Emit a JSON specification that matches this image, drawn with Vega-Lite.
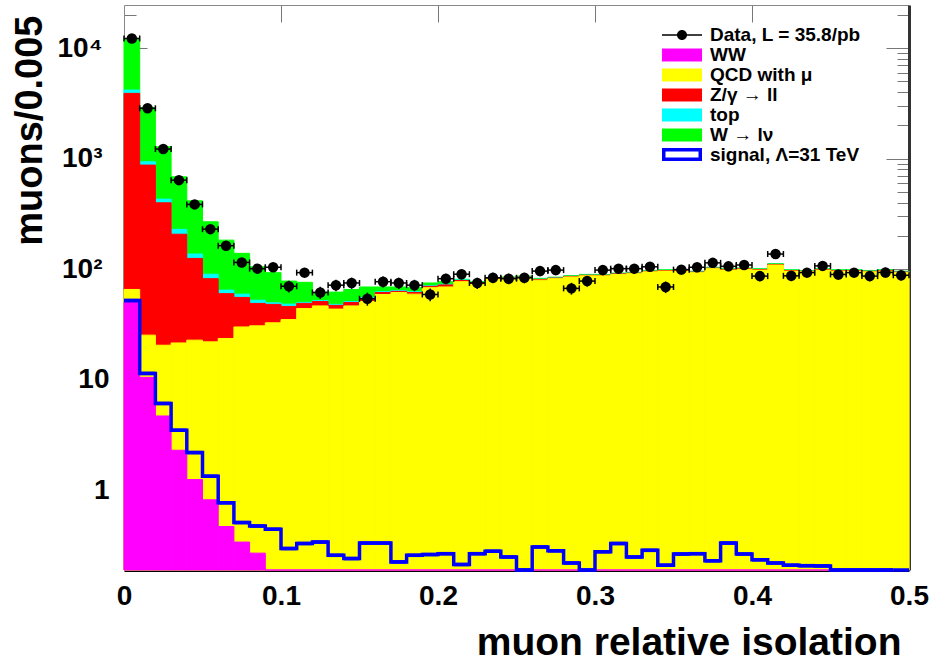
{
  "$schema": "https://vega.github.io/schema/vega-lite/v6.json",
  "width": 785,
  "height": 565,
  "autosize": {"type": "none"},
  "padding": {"left": 124, "top": 5, "right": 25, "bottom": 92},
  "background": "white",
  "config": {
    "font": "Liberation Sans",
    "view": {"stroke": null},
    "axis": {"grid": false, "labelFont": "Liberation Sans", "labelFontWeight": "bold", "labelColor": "black", "titleFont": "Liberation Sans", "titleFontWeight": "bold", "titleColor": "black"},
    "legend": {"orient": "none", "padding": 0, "labelFont": "Liberation Sans", "labelFontSize": 19, "labelFontWeight": "bold", "labelColor": "black", "labelOffset": 18.5, "labelLimit": 400, "symbolSize": 169, "symbolOpacity": 1}
  },
  "data": {"values": [
    {"lo":0.00,"hi":0.01,"c":0.005,"ww":50,"qcd":65.5,"z":3890,"tp":4170,"w":12100,"sig":52,"d":12200,"e":110},
    {"lo":0.01,"hi":0.02,"c":0.015,"ww":10.5,"qcd":25.3,"z":873,"tp":936,"w":2900,"sig":11.4,"d":2850,"e":53},
    {"lo":0.02,"hi":0.03,"c":0.025,"ww":4.7,"qcd":20.5,"z":398,"tp":430,"w":1280,"sig":6.1,"d":1220,"e":35},
    {"lo":0.03,"hi":0.04,"c":0.035,"ww":2.3,"qcd":21.5,"z":207,"tp":229,"w":684,"sig":3.49,"d":638,"e":25},
    {"lo":0.04,"hi":0.05,"c":0.045,"ww":1.25,"qcd":22.8,"z":125,"tp":137,"w":415,"sig":2.19,"d":385,"e":20},
    {"lo":0.05,"hi":0.06,"c":0.055,"ww":0.82,"qcd":22,"z":82,"tp":90,"w":268,"sig":1.34,"d":230,"e":15},
    {"lo":0.06,"hi":0.07,"c":0.065,"ww":0.47,"qcd":23.6,"z":60,"tp":64.6,"w":183,"sig":0.77,"d":163,"e":13},
    {"lo":0.07,"hi":0.08,"c":0.075,"ww":0.34,"qcd":30,"z":55.5,"tp":59.4,"w":139,"sig":0.51,"d":115,"e":11},
    {"lo":0.08,"hi":0.09,"c":0.085,"ww":0.27,"qcd":30.7,"z":49,"tp":52.4,"w":105,"sig":0.475,"d":101,"e":10},
    {"lo":0.09,"hi":0.10,"c":0.095,"ww":0.1,"qcd":32.7,"z":48,"tp":49.6,"w":93,"sig":0.444,"d":104,"e":10},
    {"lo":0.10,"hi":0.11,"c":0.105,"ww":0.1,"qcd":35,"z":46,"tp":48.2,"w":78,"sig":0.297,"d":70,"e":8.4},
    {"lo":0.11,"hi":0.12,"c":0.115,"ww":0.1,"qcd":44,"z":49,"tp":50,"w":76,"sig":0.33,"d":93,"e":9.6},
    {"lo":0.12,"hi":0.13,"c":0.125,"ww":0.1,"qcd":46.5,"z":51,"tp":52,"w":62,"sig":0.34,"d":61.5,"e":7.8},
    {"lo":0.13,"hi":0.14,"c":0.135,"ww":0.1,"qcd":43.5,"z":47,"tp":48,"w":62,"sig":0.258,"d":71.6,"e":8.5},
    {"lo":0.14,"hi":0.15,"c":0.145,"ww":0.1,"qcd":46.5,"z":50,"tp":51,"w":65.5,"sig":0.241,"d":75,"e":8.7},
    {"lo":0.15,"hi":0.16,"c":0.155,"ww":0.1,"qcd":51,"z":54.5,"tp":55.5,"w":69,"sig":0.333,"d":54,"e":7.3},
    {"lo":0.16,"hi":0.17,"c":0.165,"ww":0.1,"qcd":59,"z":61.5,"tp":62.5,"w":69,"sig":0.333,"d":77,"e":8.8},
    {"lo":0.17,"hi":0.18,"c":0.175,"ww":0.1,"qcd":61.5,"z":63,"tp":64,"w":69,"sig":0.225,"d":75,"e":8.7},
    {"lo":0.18,"hi":0.19,"c":0.185,"ww":0.1,"qcd":59.4,"z":61.5,"tp":62.5,"w":68,"sig":0.258,"d":71.6,"e":8.5},
    {"lo":0.19,"hi":0.20,"c":0.195,"ww":0.1,"qcd":68,"z":70,"tp":71,"w":75,"sig":0.262,"d":59,"e":7.7},
    {"lo":0.20,"hi":0.21,"c":0.205,"ww":0.1,"qcd":69,"z":72,"tp":73,"w":77,"sig":0.267,"d":82,"e":9},
    {"lo":0.21,"hi":0.22,"c":0.215,"ww":0.1,"qcd":77,"z":79,"tp":80,"w":81,"sig":0.213,"d":90,"e":9.5},
    {"lo":0.22,"hi":0.23,"c":0.225,"ww":0.1,"qcd":72.7,"z":75,"tp":76,"w":77,"sig":0.267,"d":75,"e":8.7},
    {"lo":0.23,"hi":0.24,"c":0.235,"ww":0.1,"qcd":81,"z":82.2,"tp":82.6,"w":84,"sig":0.281,"d":83.5,"e":9.1},
    {"lo":0.24,"hi":0.25,"c":0.245,"ww":0.1,"qcd":82,"z":83.2,"tp":83.6,"w":85,"sig":0.249,"d":82,"e":9},
    {"lo":0.25,"hi":0.26,"c":0.255,"ww":0.1,"qcd":83.5,"z":84.7,"tp":85.1,"w":86.5,"sig":0.15,"d":83.5,"e":9.1},
    {"lo":0.26,"hi":0.27,"c":0.265,"ww":0.1,"qcd":79.5,"z":80.7,"tp":81.1,"w":82.5,"sig":0.307,"d":96,"e":9.8},
    {"lo":0.27,"hi":0.28,"c":0.275,"ww":0.1,"qcd":82,"z":83,"tp":83.4,"w":84.5,"sig":0.283,"d":98,"e":9.9},
    {"lo":0.28,"hi":0.29,"c":0.285,"ww":0.1,"qcd":85,"z":86,"tp":86.4,"w":87.5,"sig":0.22,"d":67,"e":8.2},
    {"lo":0.29,"hi":0.30,"c":0.295,"ww":0.1,"qcd":87,"z":88,"tp":88.4,"w":89.6,"sig":0.15,"d":78,"e":8.8},
    {"lo":0.30,"hi":0.31,"c":0.305,"ww":0.1,"qcd":87,"z":88,"tp":88.4,"w":89.6,"sig":0.278,"d":98,"e":9.9},
    {"lo":0.31,"hi":0.32,"c":0.315,"ww":0.1,"qcd":89.5,"z":90.6,"tp":91,"w":92.2,"sig":0.33,"d":101,"e":10},
    {"lo":0.32,"hi":0.33,"c":0.325,"ww":0.1,"qcd":91,"z":92.1,"tp":92.5,"w":93.7,"sig":0.249,"d":101,"e":10},
    {"lo":0.33,"hi":0.34,"c":0.335,"ww":0.1,"qcd":94.5,"z":95.6,"tp":96,"w":97.3,"sig":0.286,"d":105,"e":10.2},
    {"lo":0.34,"hi":0.35,"c":0.345,"ww":0.1,"qcd":96,"z":97.2,"tp":97.6,"w":98.9,"sig":0.21,"d":69,"e":8.3},
    {"lo":0.35,"hi":0.36,"c":0.355,"ww":0.1,"qcd":96,"z":97.2,"tp":97.6,"w":98.9,"sig":0.265,"d":99,"e":9.9},
    {"lo":0.36,"hi":0.37,"c":0.365,"ww":0.1,"qcd":93,"z":94.1,"tp":94.6,"w":95.8,"sig":0.267,"d":104,"e":10.2},
    {"lo":0.37,"hi":0.38,"c":0.375,"ww":0.1,"qcd":101,"z":102.2,"tp":102.7,"w":104,"sig":0.23,"d":114,"e":10.7},
    {"lo":0.38,"hi":0.39,"c":0.385,"ww":0.1,"qcd":98,"z":99.2,"tp":99.7,"w":101,"sig":0.333,"d":106,"e":10.3},
    {"lo":0.39,"hi":0.40,"c":0.395,"ww":0.1,"qcd":99.5,"z":100.7,"tp":101.2,"w":102.5,"sig":0.265,"d":109,"e":10.4},
    {"lo":0.40,"hi":0.41,"c":0.405,"ww":0.1,"qcd":98,"z":99.2,"tp":99.7,"w":101,"sig":0.235,"d":86.5,"e":9.3},
    {"lo":0.41,"hi":0.42,"c":0.415,"ww":0.1,"qcd":109,"z":110.3,"tp":110.8,"w":112.3,"sig":0.22,"d":137,"e":11.7},
    {"lo":0.42,"hi":0.43,"c":0.425,"ww":0.1,"qcd":96,"z":97.2,"tp":97.6,"w":98.9,"sig":0.21,"d":87,"e":9.3},
    {"lo":0.43,"hi":0.44,"c":0.435,"ww":0.1,"qcd":94.5,"z":95.6,"tp":96,"w":97.3,"sig":0.208,"d":93,"e":9.6},
    {"lo":0.44,"hi":0.45,"c":0.445,"ww":0.1,"qcd":98,"z":99.2,"tp":99.7,"w":101,"sig":0.207,"d":107,"e":10.3},
    {"lo":0.45,"hi":0.46,"c":0.455,"ww":0.1,"qcd":96,"z":97.2,"tp":97.6,"w":98.9,"sig":0.15,"d":89.5,"e":9.5},
    {"lo":0.46,"hi":0.47,"c":0.465,"ww":0.1,"qcd":96,"z":97.2,"tp":97.6,"w":98.9,"sig":0.15,"d":93,"e":9.6},
    {"lo":0.47,"hi":0.48,"c":0.475,"ww":0.1,"qcd":94.5,"z":95.6,"tp":96,"w":97.3,"sig":0.15,"d":86.5,"e":9.3},
    {"lo":0.48,"hi":0.49,"c":0.485,"ww":0.1,"qcd":96,"z":97.2,"tp":97.6,"w":98.9,"sig":0.15,"d":93.4,"e":9.7},
    {"lo":0.49,"hi":0.50,"c":0.495,"ww":0.1,"qcd":93,"z":94.1,"tp":94.6,"w":95.8,"sig":0.15,"d":88,"e":9.4}
  ]},
  "resolve": {"axis": {"x": "independent", "y": "independent"}},
  "layer": [
    {
      "mark": {"type": "bar", "stroke": "#00ff00", "strokeWidth": 1},
      "encoding": {
        "x": {"field": "lo", "type": "quantitative", "scale": {"domain": [0, 0.5], "nice": false, "zero": false},
          "axis": {"orient": "bottom", "values": [0, 0.1, 0.2, 0.3, 0.4, 0.5],
            "labelExpr": "datum.value == 0 ? '0' : format(datum.value, '.1f')",
            "labelFontSize": 28, "labelPadding": 29, "tickSize": -17, "tickColor": "#777",
            "domainColor": "black", "domainWidth": 3, "labelFlush": false, "labelOverlap": false, "labelBound": false,
            "title": "muon relative isolation", "titleFontSize": 39, "titleAlign": "right", "titleBaseline": "alphabetic",
            "titleX": 777, "titleY": 84}},
        "x2": {"field": "hi"},
        "y": {"field": "w", "type": "quantitative",
          "scale": {"type": "log", "domain": [0.19, 24500], "nice": false, "clamp": true},
          "axis": {"orient": "left",
            "values": [0.2,0.3,0.4,0.5,0.6,0.7,0.8,0.9,1,2,3,4,5,6,7,8,9,10,20,30,40,50,60,70,80,90,100,200,300,400,500,600,700,800,900,1000,2000,3000,4000,5000,6000,7000,8000,9000,10000,20000],
            "labelExpr": "datum.value === 10000 ? '10⁴' : datum.value === 1000 ? '10³' : datum.value === 100 ? '10²' : datum.value === 10 ? '10' : datum.value === 1 ? '1' : ''",
            "labelFontSize": 28, "labelAlign": "right", "labelBaseline": "middle", "labelOverlap": false, "labelBound": false, "labelFlush": false,
            "tickSize": {"condition": {"test": "datum.value === 1 || datum.value === 10 || datum.value === 100 || datum.value === 1000 || datum.value === 10000", "value": -23}, "value": -12},
            "labelPadding": {"condition": {"test": "datum.value >= 100", "value": 45}, "value": 38},
            "tickColor": "#777", "domainColor": "#888",
            "title": "muons/0.005", "titleFontSize": 38, "titleAngle": 270, "titleAlign": "right", "titleBaseline": "alphabetic",
            "titleX": -83, "titleY": 10}},
        "y2": {"datum": 0.01},
        "color": {"datum": "W → lν", "type": "nominal",
          "scale": {"domain": ["WW", "QCD with μ", "Z/γ → ll", "top", "W → lν"], "range": ["#ff00ff", "#ffff00", "#ff0000", "#00ffff", "#00ff00"]},
          "legend": {"legendX": 548.5, "legendY": 40.5, "title": null, "rowPadding": -17,
            "symbolType": "M-3.08,-1H3.08V1H-3.08Z", "symbolStrokeColor": "transparent", "symbolStrokeWidth": 0}}
      }
    },
    {
      "mark": {"type": "bar", "stroke": "#00ffff", "strokeWidth": 1},
      "encoding": {
        "x": {"field": "lo", "type": "quantitative", "axis": null},
        "x2": {"field": "hi"},
        "y": {"field": "tp", "type": "quantitative", "axis": null},
        "y2": {"datum": 0.01},
        "color": {"datum": "top", "type": "nominal"}
      }
    },
    {
      "mark": {"type": "bar", "stroke": "#ff0000", "strokeWidth": 1},
      "encoding": {
        "x": {"field": "lo", "type": "quantitative", "axis": null},
        "x2": {"field": "hi"},
        "y": {"field": "z", "type": "quantitative", "axis": null},
        "y2": {"datum": 0.01},
        "color": {"datum": "Z/γ → ll", "type": "nominal"}
      }
    },
    {
      "mark": {"type": "bar", "stroke": "#ffff00", "strokeWidth": 1},
      "encoding": {
        "x": {"field": "lo", "type": "quantitative", "axis": null},
        "x2": {"field": "hi"},
        "y": {"field": "qcd", "type": "quantitative", "axis": null},
        "y2": {"datum": 0.01},
        "color": {"datum": "QCD with μ", "type": "nominal"}
      }
    },
    {
      "mark": {"type": "bar", "stroke": "#ff00ff", "strokeWidth": 1},
      "encoding": {
        "x": {"field": "lo", "type": "quantitative", "axis": null},
        "x2": {"field": "hi"},
        "y": {"field": "ww", "type": "quantitative", "axis": null},
        "y2": {"datum": 0.01},
        "color": {"datum": "WW", "type": "nominal"}
      }
    },
    {
      "mark": {"type": "rule", "color": "#0000ff", "strokeWidth": 3.5},
      "encoding": {
        "x": {"field": "lo", "type": "quantitative",
          "axis": {"orient": "top", "values": [0.1, 0.2, 0.3, 0.4], "labels": false, "tickSize": -17, "tickColor": "#777", "domainColor": "#888", "title": null}},
        "x2": {"field": "hi"},
        "y": {"field": "sig", "type": "quantitative",
          "axis": {"orient": "right", "labels": false, "title": null,
            "values": [0.2,0.3,0.4,0.5,0.6,0.7,0.8,0.9,1,2,3,4,5,6,7,8,9,10,20,30,40,50,60,70,80,90,100,200,300,400,500,600,700,800,900,1000,2000,3000,4000,5000,6000,7000,8000,9000,10000,20000],
            "tickSize": {"condition": {"test": "datum.value === 1 || datum.value === 10 || datum.value === 100 || datum.value === 1000 || datum.value === 10000", "value": -23}, "value": -12},
            "tickColor": "#777", "domainColor": "#333", "domainWidth": 3}}
      }
    },
    {
      "mark": {"type": "line", "color": "#0000ff", "strokeWidth": 3.5, "interpolate": "step-after"},
      "encoding": {
        "x": {"field": "lo", "type": "quantitative", "axis": null},
        "y": {"field": "sig", "type": "quantitative", "axis": null},
        "strokeDash": {"datum": "signal, Λ=31 TeV", "type": "nominal", "scale": {"range": [[1, 0]]},
          "legend": {"legendX": 548.5, "legendY": 140, "title": null,
            "symbolType": "M-2.81,-0.73H2.81V0.73H-2.81Z", "symbolStrokeColor": "#0000ff", "symbolStrokeWidth": 3.5, "symbolFillColor": "#ffffff"}}
      }
    },
    {
      "mark": {"type": "rule", "color": "black", "strokeWidth": 1.5},
      "encoding": {
        "x": {"field": "lo", "type": "quantitative", "axis": null},
        "x2": {"field": "hi"},
        "y": {"field": "d", "type": "quantitative", "axis": null}
      }
    },
    {
      "mark": {"type": "tick", "orient": "vertical", "color": "black", "size": 6, "thickness": 1.5, "opacity": 1},
      "encoding": {
        "x": {"field": "lo", "type": "quantitative", "axis": null},
        "y": {"field": "d", "type": "quantitative", "axis": null}
      }
    },
    {
      "mark": {"type": "tick", "orient": "vertical", "color": "black", "size": 6, "thickness": 1.5, "opacity": 1},
      "encoding": {
        "x": {"field": "hi", "type": "quantitative", "axis": null},
        "y": {"field": "d", "type": "quantitative", "axis": null}
      }
    },
    {
      "mark": {"type": "errorbar", "color": "black", "thickness": 1.5},
      "encoding": {
        "x": {"field": "c", "type": "quantitative", "axis": null},
        "y": {"field": "d", "type": "quantitative", "axis": null},
        "yError": {"field": "e"}
      }
    },
    {
      "mark": {"type": "point", "filled": true, "size": 110, "opacity": 1},
      "encoding": {
        "x": {"field": "c", "type": "quantitative", "axis": null},
        "y": {"field": "d", "type": "quantitative", "axis": null},
        "fill": {"datum": "Data, L = 35.8/pb", "type": "nominal", "scale": {"range": ["#000000"]},
          "legend": {"legendX": 548.5, "legendY": 20.5, "title": null,
            "symbolType": "M-3.08,-0.115H3.08V0.115H-3.08Z M-0.77,0A0.77,0.77,0,1,1,0.77,0A0.77,0.77,0,1,1,-0.77,0Z",
            "symbolStrokeColor": "transparent", "symbolStrokeWidth": 0}}
      }
    }
  ]
}
